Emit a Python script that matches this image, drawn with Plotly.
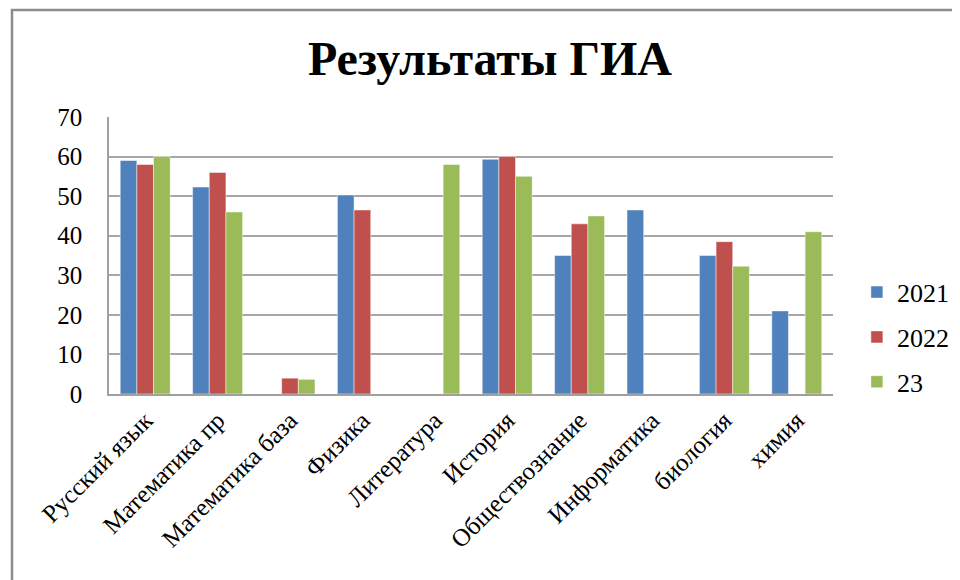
import plotly.graph_objects as go

categories = ["Русский язык", "Математика пр", "Математика база", "Физика", "Литература",
              "История", "Обществознание", "Информатика", "биология", "химия"]
series_names = ["2021", "2022", "23"]
values_2021 = [59, 52.3, None, 50.3, None, 59.3, 35, 46.5, 35, 21]
values_2022 = [58, 56, 4, 46.5, None, 60, 43, None, 38.5, None]
values_23 = [60, 46, 3.7, None, 58, 55, 45, None, 32.3, 41]
colors = ["#4F81BD", "#C0504D", "#9BBB59"]

FONT = "Liberation Serif"

# plot area in figure pixels (page is offset by 8px body margin)
L, R, T, B = 101, 825, 109, 386
W, H = R - L, B - T

fig = go.Figure()
for name, vals, col in zip(series_names, [values_2021, values_2022, values_23], colors):
    fig.add_trace(go.Bar(
        x=categories, y=vals, name=name, legendgroup=name,
        marker=dict(color=col, line=dict(color="rgba(255,255,255,0.6)", width=0.8)),
    ))

fig.update_layout(
    width=960, height=580,
    paper_bgcolor="white", plot_bgcolor="white",
    margin=dict(l=L, r=960 - R, t=T, b=580 - B, autoexpand=False),
    barmode="group", bargap=0.31, bargroupgap=0,
    font=dict(family=FONT, color="black"),
    title=dict(text="<b>Результаты ГИА</b>", x=0.502, xanchor="center", y=0.913, yanchor="middle",
               font=dict(family=FONT, size=48, color="black")),
    legend=dict(x=1.033, y=0.205, xanchor="left", yanchor="middle",
                font=dict(family=FONT, size=26, color="black"),
                tracegroupgap=8, itemwidth=30),
    showlegend=True,
)
fig.update_xaxes(
    tickangle=-45, tickfont=dict(family=FONT, size=25, color="black"),
    showline=True, linecolor="#A0A0A0", linewidth=1.5, showgrid=False,
    ticks="", fixedrange=True, automargin=False,
)
fig.update_yaxes(
    range=[0, 70], dtick=10, tickfont=dict(family=FONT, size=25, color="black"),
    showline=True, linecolor="#A0A0A0", linewidth=1.5,
    showgrid=True, gridcolor="#A6A6A6", gridwidth=1.5,
    ticks="", ticklabelstandoff=20,
    zeroline=False, fixedrange=True, automargin=False,
)
# outer chart frame
fig.add_shape(type="rect", xref="paper", yref="paper",
              x0=(4 - L) / W, x1=(975 - L) / W,
              y0=(B - 600) / H, y1=(B - 2) / H,
              line=dict(color="#8C8C8C", width=2.5), layer="below")

fig.write_html("out.html")
